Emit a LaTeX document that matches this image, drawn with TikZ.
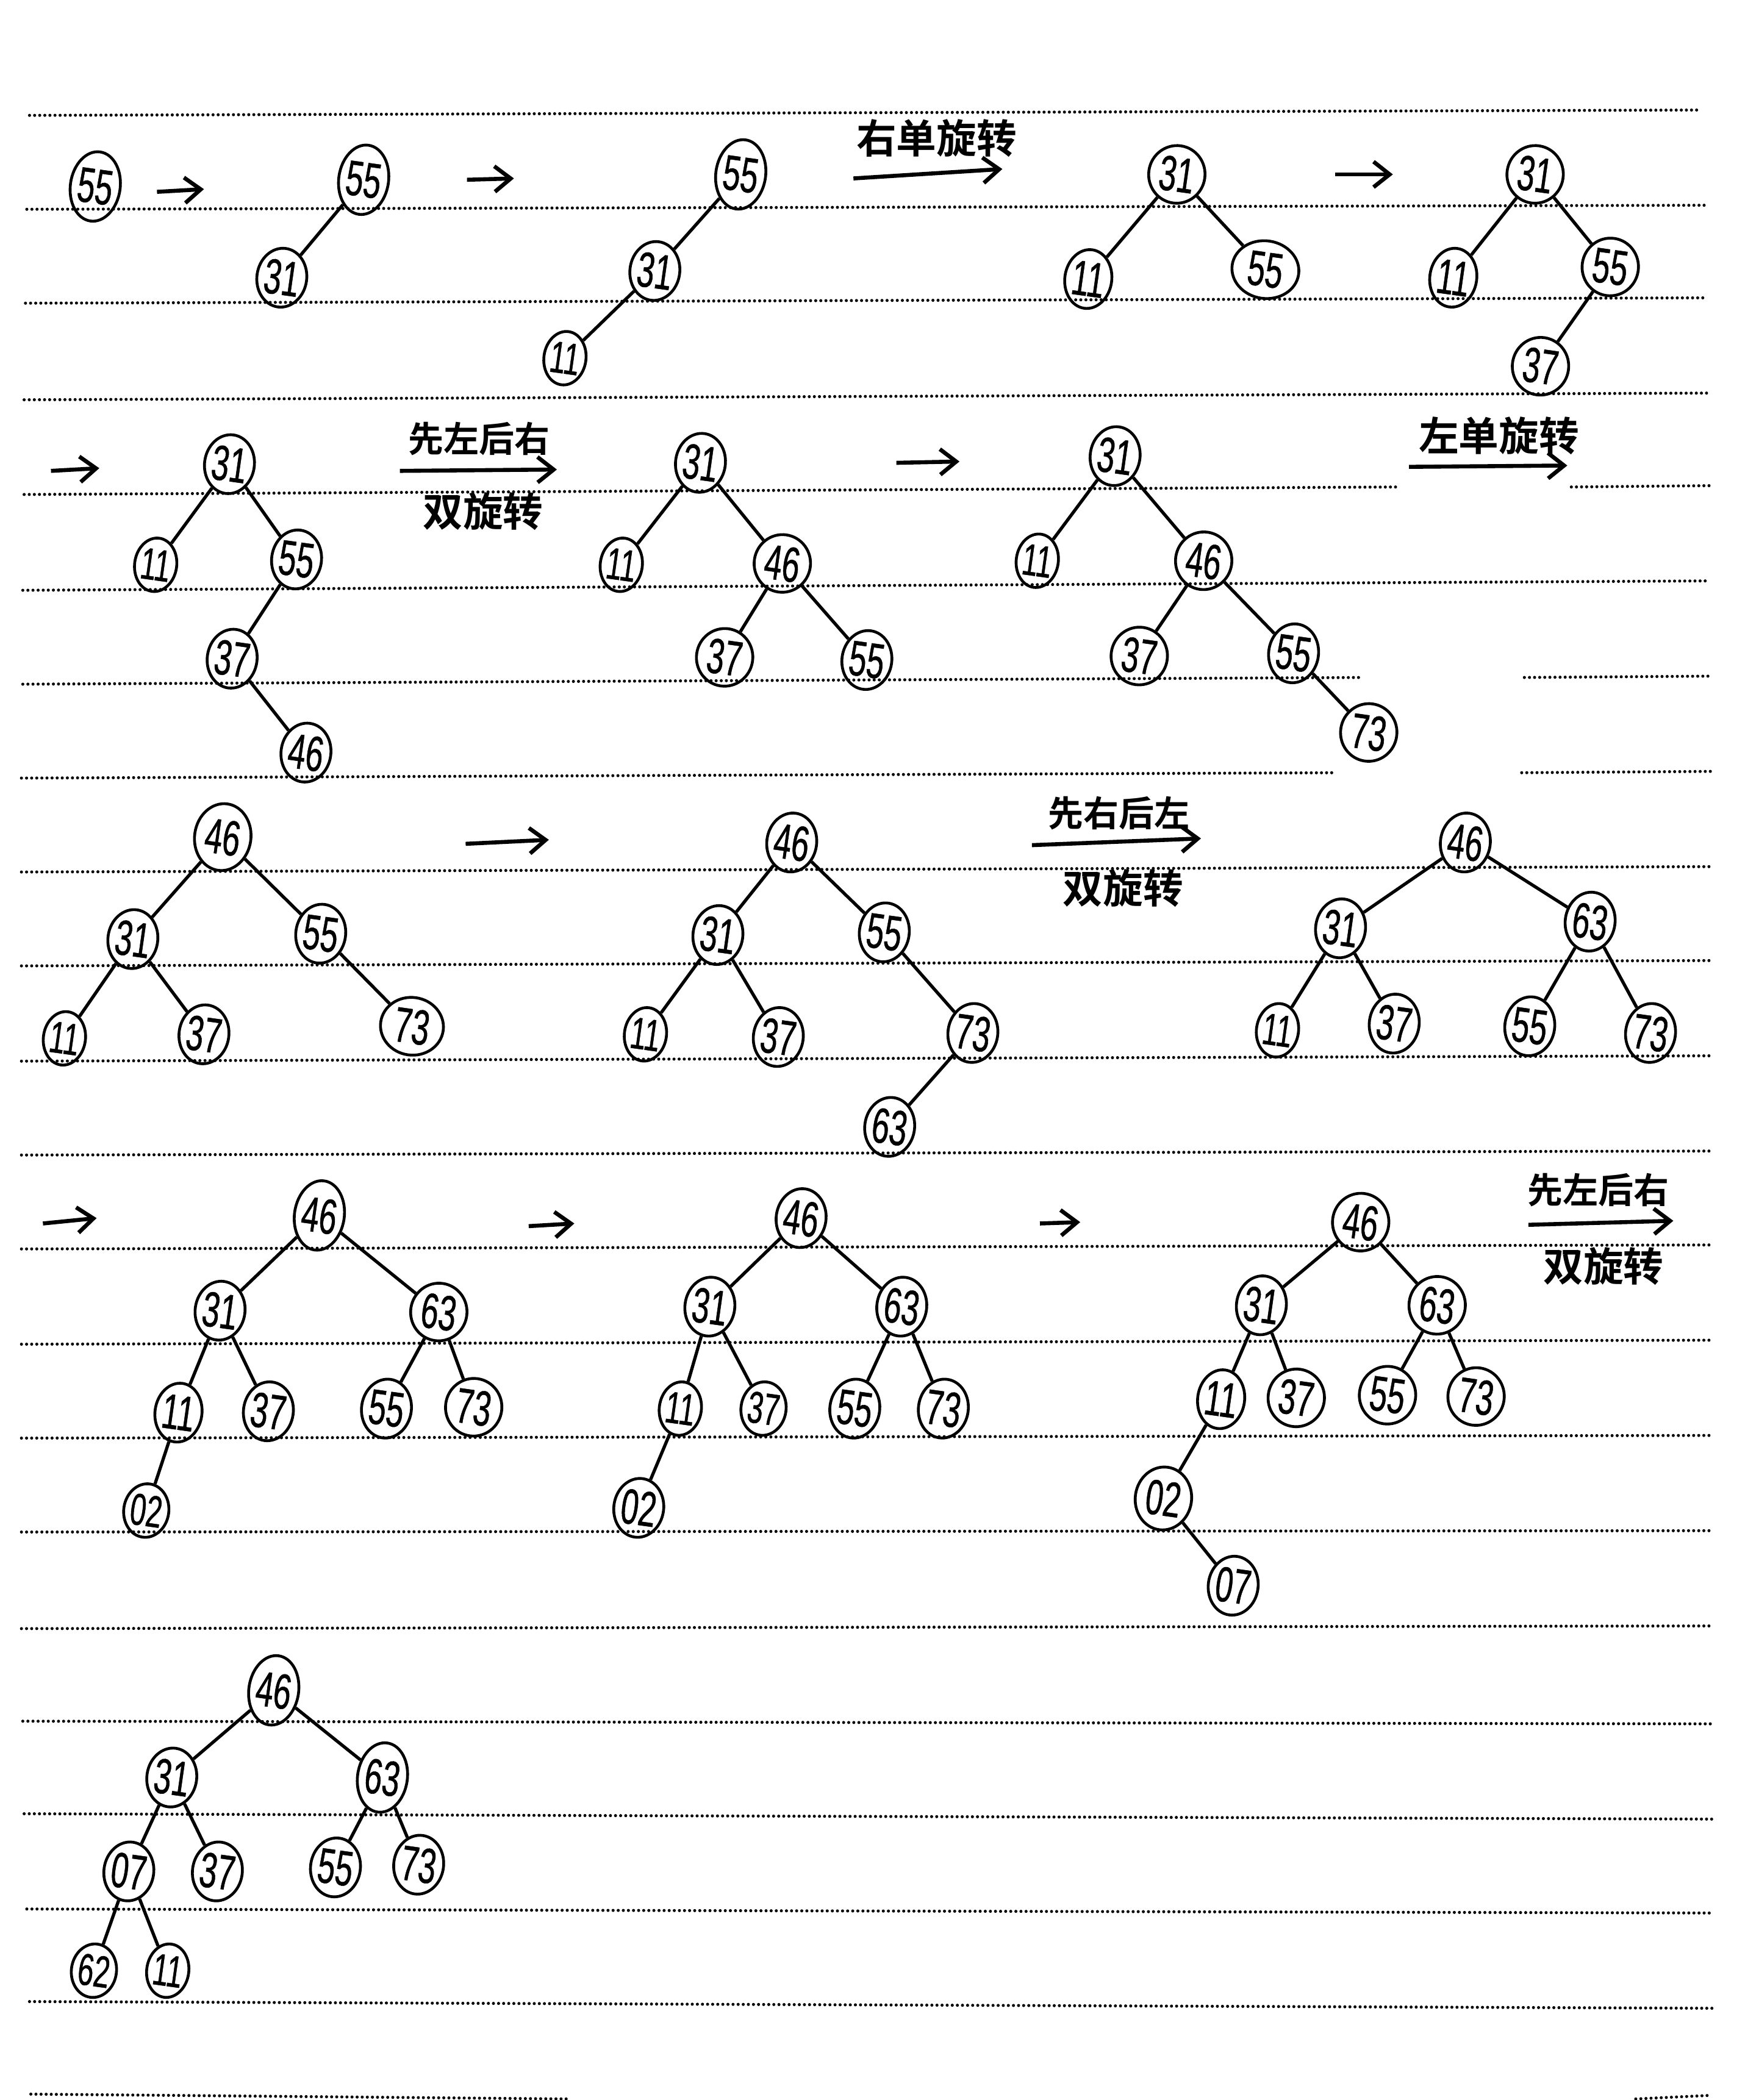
\documentclass[tikz,border=0pt]{standalone}
\usepackage{fontspec}
\usepackage{tikz}
\usetikzlibrary{shapes.geometric,arrows.meta}
\newfontfamily\digitfont[FakeStretch=0.64,FakeBold=0.6]{Liberation Sans}
\newfontfamily\cjkfont{Noto Sans CJK SC}[BoldFont={Noto Sans CJK SC Bold}]

\begin{document}
\begin{tikzpicture}[
    x=0.02cm, y=-0.02cm,
    rule/.style={line width=0.46mm, line cap=round, dash pattern=on 0pt off 0.76mm},
    nd/.style={ellipse, draw, line width=0.42mm, inner sep=0pt, rotate=-8, minimum width=0.74cm, minimum height=1.04cm, font=\digitfont\fontsize{21}{21}\selectfont},
    ndn/.style={nd, minimum width=0.7cm, minimum height=0.88cm},
    ndw/.style={nd, minimum width=0.84cm, minimum height=0.86cm},
    nds/.style={nd, minimum width=0.6cm, minimum height=0.8cm, font=\digitfont\fontsize{19}{19}\selectfont},
    edge/.style={line width=0.48mm},
    arrow/.style={->, >={Straight Barb[length=2.4mm, width=3.8mm]}, line width=0.6mm},
    lab/.style={font=\cjkfont\bfseries\fontsize{15}{15}\selectfont, inner sep=0pt},
    labw/.style={lab, font=\cjkfont\bfseries\fontsize{17}{17}\selectfont}
]
    \useasboundingbox (0,0) rectangle (1300,1565.4);

    % Paper lines
    \foreach \xa/\ya/\xb/\yb in {22/86/1268/82, 20/156/1270/153, 19/226/1272/222, 18/298/1273/293,
        18/368.6/1041/363, 1171/363/1275/362, 17/440/1273/433,
        17/510/1015/505, 1136/505/1275/504, 16/580/996/576, 1134/576/1275/575,
        16/650/1276/646, 16/720/1276/716, 16/791/1276/787, 16/861/1276/858,
        16/931/1276/928, 16/1002/1276/999, 16/1072/1276/1070, 16/1142/1276/1141,
        16/1214/1276/1212, 17/1283/1276/1285, 18/1352/1276/1356, 20/1423/1276/1426,
        22/1492/1276/1497, 23/1561/423/1564.6, 1219/1564.6/1273/1562}
        \draw[rule] (\xa,\ya) -- (\xb,\yb);

    % First row
    \node[nd] (a55) at (71,139) {55};

    \node[nd] (b55) at (271,134) {55};
    \node[ndn] (b31) at (210,207) {31};

    \node[nd] (c55) at (552,130) {55};
    \node[ndn] (c31) at (488,202) {31};
    \node[nds] (c11) at (421,267) {11};

    \node[ndw] (d31) at (877,130) {31};
    \node[ndn] (d11) at (811,208) {11};
    \node[ndw, minimum width=1cm] (d55) at (943,201) {55};

    \node[ndw] (e31) at (1144,130) {31};
    \node[ndn] (e11) at (1083,207) {11};
    \node[ndw] (e55) at (1200,199) {55};
    \node[ndw] (e37) at (1148,273) {37};

    % Second row
    \node[ndn] (f31) at (171,346) {31};
    \node[nds] (f11) at (116,421) {11};
    \node[ndn] (f55) at (221,417) {55};
    \node[ndn] (f37) at (173,491) {37};
    \node[ndn] (f46) at (228,561) {46};

    \node[ndn] (g31) at (522,345) {31};
    \node[nds] (g11) at (463,421) {11};
    \node[ndw] (g46) at (583,420) {46};
    \node[ndw] (g37) at (540,490) {37};
    \node[ndn] (g55) at (646,492) {55};

    \node[ndn] (h31) at (831,340) {31};
    \node[nds] (h11) at (773,418) {11};
    \node[ndw] (h46) at (897,418) {46};
    \node[ndw] (h37) at (849,489) {37};
    \node[ndn] (h55) at (964,487) {55};
    \node[ndw] (h73) at (1020,546) {73};

    % Third row
    \node[ndw, minimum height=1cm] (i46) at (166,624) {46};
    \node[ndn] (i31) at (99,700) {31};
    \node[ndn] (i55) at (239,696) {55};
    \node[nds] (i11) at (48,774) {11};
    \node[ndn] (i37) at (152,771) {37};
    \node[ndw, minimum width=0.94cm] (i73) at (307,765) {73};

    \node[ndn] (j46) at (590,628) {46};
    \node[ndn] (j31) at (535,697) {31};
    \node[ndn] (j55) at (659,695) {55};
    \node[nds] (j11) at (481,771) {11};
    \node[ndn] (j37) at (580,773) {37};
    \node[ndn] (j73) at (725,770) {73};
    \node[ndn] (j63) at (663,840) {63};

    \node[ndn] (k46) at (1092,628) {46};
    \node[ndn] (k31) at (999,692) {31};
    \node[ndn] (k63) at (1185,687) {63};
    \node[nds] (k11) at (952,768) {11};
    \node[ndn] (k37) at (1039,763) {37};
    \node[ndn] (k55) at (1140,765) {55};
    \node[ndn] (k73) at (1230,770) {73};

    % Fourth row
    \node[nd] (l46) at (238,906) {46};
    \node[ndn] (l31) at (164,977) {31};
    \node[ndw] (l63) at (327,978) {63};
    \node[ndn] (l11) at (133,1053) {11};
    \node[ndn] (l37) at (200,1052) {37};
    \node[ndn] (l55) at (288,1050) {55};
    \node[ndw] (l73) at (353,1049) {73};
    \node[nds] (l02) at (109,1126) {02};

    \node[ndn] (m46) at (597,908) {46};
    \node[ndn] (m31) at (529,974) {31};
    \node[ndn] (m63) at (672,974) {63};
    \node[nds] (m11) at (507,1050) {11};
    \node[nds] (m37) at (569,1050) {37};
    \node[ndn] (m55) at (637,1050) {55};
    \node[ndn] (m73) at (703,1050) {73};
    \node[ndn] (m02) at (476,1124) {02};

    \node[ndw] (n46) at (1014,911) {46};
    \node[ndn] (n31) at (940,973) {31};
    \node[ndw] (n63) at (1071,973) {63};
    \node[ndn] (n11) at (910,1043) {11};
    \node[ndw] (n37) at (966,1042) {37};
    \node[ndw] (n55) at (1034,1040) {55};
    \node[ndw] (n73) at (1100,1041) {73};
    \node[ndw, minimum height=0.94cm] (n02) at (867,1117) {02};
    \node[ndn] (n07) at (919,1182) {07};

    % Last tree
    \node[nd] (o46) at (204,1260) {46};
    \node[ndn] (o31) at (128,1325) {31};
    \node[nd] (o63) at (285,1325) {63};
    \node[ndn] (o07) at (96,1395) {07};
    \node[ndn] (o37) at (162,1395) {37};
    \node[ndn] (o55) at (250,1392) {55};
    \node[ndn] (o73) at (312,1390) {73};
    \node[nds] (o62) at (70,1469) {62};
    \node[nds, minimum width=0.54cm] (o11) at (125,1469) {11};

    % Rotation labels
    \node[labw] (rotA) at (698,103) {右单旋转};
    \node[lab] (rotB) at (357,327) {先左后右};
    \node[labw] (rotC) at (360,381) {双旋转};
    \node[labw] (rotD) at (1117,325) {左单旋转};
    \node[lab] (rotE) at (834,606) {先右后左};
    \node[labw] (rotF) at (837,662) {双旋转};
    \node[lab] (rotG) at (1191,887) {先左后右};
    \node[labw] (rotH) at (1195,944) {双旋转};

    % Tree edges
    \foreach \p/\q in {b55/b31, c55/c31, c31/c11, d31/d11, d31/d55, e31/e11, e31/e55, e55/e37,
        f31/f11, f31/f55, f55/f37, f37/f46, g31/g11, g31/g46, g46/g37, g46/g55,
        h31/h11, h31/h46, h46/h37, h46/h55, h55/h73,
        i46/i31, i46/i55, i31/i11, i31/i37, i55/i73,
        j46/j31, j46/j55, j31/j11, j31/j37, j55/j73, j73/j63,
        k46/k31, k46/k63, k31/k11, k31/k37, k63/k55, k63/k73,
        l46/l31, l46/l63, l31/l11, l31/l37, l63/l55, l63/l73, l11/l02,
        m46/m31, m46/m63, m31/m11, m31/m37, m63/m55, m63/m73, m11/m02,
        n46/n31, n46/n63, n31/n11, n31/n37, n63/n55, n63/n73, n11/n02, n02/n07,
        o46/o31, o46/o63, o31/o07, o31/o37, o63/o55, o63/o73, o07/o62, o07/o11}
        \draw[edge] (\p) -- (\q);

    % Step arrows
    \foreach \n/\xa/\ya/\xb/\yb in {1/117/143/152/141, 2/348/134/383/133, 3/636/133/747/126,
        4/995/130/1038/130, 5/38/351/74/349, 6/298/351/415/350, 7/668/345/715/344,
        8/1050/348/1168/347, 9/347/629/409/626, 10/769/630/895/625, 11/32/912/72/908,
        12/394/914/428/912, 13/775/912/805/911, 14/1139/913/1247/910}
    {
        \coordinate (from\n) at (\xa,\ya);
        \coordinate (to\n) at (\xb,\yb);
        \draw[arrow] (from\n) -- (to\n);
    }
\end{tikzpicture}
\end{document}
